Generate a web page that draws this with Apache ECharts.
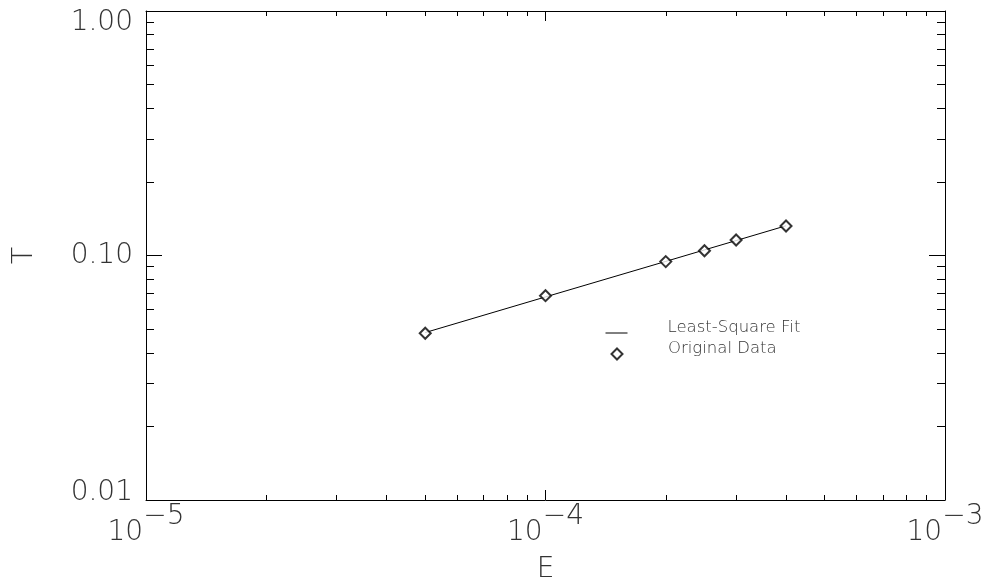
<!DOCTYPE html>
<html>
<head>
<meta charset="utf-8">
<script src="https://cdn.jsdelivr.net/npm/echarts@6/dist/echarts.min.js"></script>
<style>
html,body{margin:0;padding:0;background:#fff;}
#chart{width:994px;height:582px;}
</style>
</head>
<body>
<div id="chart"></div>
<script>
// ---- data ----
var eValues = [5e-5, 1e-4, 2e-4, 2.5e-4, 3e-4, 4e-4];
var tValues = [0.0481, 0.0685, 0.0944, 0.1046, 0.1157, 0.1320];
var fitValues = [0.0484, 0.0677, 0.0946, 0.1054, 0.1151, 0.1323];

var xTickValues = [1e-5, 1e-4, 1e-3];
var xTickBase = ['10', '10', '10'];
var xTickExps = ['\u22125', '\u22124', '\u22123'];
var xMajorInner = [1e-4];
var xMinor = [2e-5,3e-5,4e-5,5e-5,6e-5,7e-5,8e-5,9e-5,2e-4,3e-4,4e-4,5e-4,6e-4,7e-4,8e-4,9e-4];

var yTickValues = [0.01, 0.1, 1];
var yTickLabels = ['0.01', '0.10', '1.00'];
var yMajorInner = [0.1];
var yMinor = [0.02,0.03,0.04,0.05,0.06,0.07,0.08,0.09,0.2,0.3,0.4,0.5,0.6,0.7,0.8,0.9];

var seriesNames = ['Least-Square Fit', 'Original Data'];
var xName = 'E';
var yName = 'T';

// ---- chart ----
var FONT = 'DejaVu Sans';
var FW = 200;
var TXT = '#333';

function nearestIdx(arr, v) {
  var best = 0, bd = Infinity;
  for (var i = 0; i < arr.length; i++) {
    var d = Math.abs(Math.log10(arr[i]) - Math.log10(v));
    if (d < bd) { bd = d; best = i; }
  }
  return best;
}

function xAx(pos, ticks, len, labels, line) {
  return {
    type: 'log', logBase: 10, min: 1e-5, max: 1e-3, position: pos, gridIndex: 0,
    axisLine: { show: line, onZero: false, lineStyle: { color: '#000', width: 1 } },
    axisTick: { show: true, inside: true, length: len, customValues: ticks, lineStyle: { color: '#000', width: 1 } },
    splitLine: { show: false },
    minorTick: { show: false },
    axisLabel: labels ? {
      show: true, customValues: xTickValues, showMinLabel: true, showMaxLabel: true, margin: 11,
      formatter: function (v) {
        var i = nearestIdx(xTickValues, v);
        return '{b|' + xTickBase[i] + '}{s|' + xTickExps[i] + '}';
      },
      rich: {
        b: { fontFamily: FONT, fontWeight: FW, fontSize: 28, color: TXT, lineHeight: 27, padding: [16, 0, 0, 0] },
        s: { fontFamily: FONT, fontWeight: FW, fontSize: 28, color: TXT, lineHeight: 27, padding: [0, 0, 16, 0] }
      }
    } : { show: false },
    name: labels ? xName : '', nameLocation: 'middle', nameGap: 56,
    nameTextStyle: { fontFamily: FONT, fontWeight: FW, fontSize: 28, color: TXT }
  };
}

function yAx(pos, ticks, len, labels, line) {
  return {
    type: 'log', logBase: 10, min: 0.01, max: 1, position: pos, gridIndex: 0,
    axisLine: { show: line, onZero: false, lineStyle: { color: '#000', width: 1 } },
    axisTick: { show: true, inside: true, length: len, customValues: ticks, lineStyle: { color: '#000', width: 1 } },
    splitLine: { show: false },
    minorTick: { show: false },
    axisLabel: labels ? {
      show: true, customValues: yTickValues, showMinLabel: true, showMaxLabel: true, margin: 13,
      formatter: function (v) {
        var i = nearestIdx(yTickValues, v);
        var key = i === yTickValues.length - 1 ? 'top' : (i === 0 ? 'bot' : 'n');
        return '{' + key + '|' + yTickLabels[i] + '}';
      },
      rich: {
        n: { fontFamily: FONT, fontWeight: FW, fontSize: 28, color: TXT },
        top: { fontFamily: FONT, fontWeight: FW, fontSize: 28, color: TXT, padding: [24, 0, 0, 0] },
        bot: { fontFamily: FONT, fontWeight: FW, fontSize: 28, color: TXT, padding: [0, 0, 14, 0] }
      }
    } : { show: false },
    name: labels ? yName : '', nameLocation: 'middle', nameGap: 107,
    nameTextStyle: { fontFamily: FONT, fontWeight: FW, fontSize: 28, color: TXT }
  };
}

var chart = echarts.init(document.getElementById('chart'), null, { renderer: 'canvas' });
chart.setOption({
  animation: false,
  backgroundColor: '#fff',
  grid: { left: 146, right: 49, top: 11, bottom: 82, containLabel: false, outerBoundsMode: 'none' },
  legend: [
    {
      orient: 'vertical', left: 605, top: 319, padding: 0, itemGap: 0,
      itemWidth: 22, itemHeight: 11,
      data: [{ name: seriesNames[0], itemStyle: { opacity: 0 }, lineStyle: { width: 1, color: '#000' } }],
      formatter: function (n) { return '{a|' + n + '}'; },
      textStyle: {
        rich: { a: { fontFamily: FONT, fontWeight: FW, fontSize: 16.5, color: TXT, lineHeight: 6, padding: [0, 0, 11, 35] } }
      }
    },
    {
      orient: 'vertical', left: 610.5, top: 340, padding: 0, itemGap: 0,
      itemWidth: 11, itemHeight: 11,
      data: [{ name: seriesNames[1] }],
      formatter: function (n) { return '{a|' + n + '}'; },
      textStyle: {
        rich: { a: { fontFamily: FONT, fontWeight: FW, fontSize: 16.5, color: TXT, lineHeight: 6, padding: [0, 0, 11, 40.5] } }
      }
    }
  ],
  xAxis: [
    xAx('bottom', xMajorInner, 10, true, true),
    xAx('bottom', xMinor, 5, false, false),
    xAx('top', xMajorInner, 10, false, true),
    xAx('top', xMinor, 5, false, false)
  ],
  yAxis: [
    yAx('left', yMajorInner, 16, true, true),
    yAx('left', yMinor, 8, false, false),
    yAx('right', yMajorInner, 16, false, true),
    yAx('right', yMinor, 8, false, false)
  ],
  series: [
    {
      name: seriesNames[0], type: 'line', xAxisIndex: 0, yAxisIndex: 0,
      data: eValues.map(function (e, i) { return [e, fitValues[i]]; }),
      symbol: 'none', showSymbol: false,
      lineStyle: { color: '#000', width: 1 }, itemStyle: { color: '#000' }, z: 2
    },
    {
      name: seriesNames[1], type: 'scatter', xAxisIndex: 0, yAxisIndex: 0,
      data: eValues.map(function (e, i) { return [e, tValues[i]]; }),
      symbol: 'emptyDiamond', symbolSize: 11,
      itemStyle: { color: '#000', borderColor: '#000', borderWidth: 1.5 }, z: 3
    }
  ]
});
</script>
</body>
</html>
